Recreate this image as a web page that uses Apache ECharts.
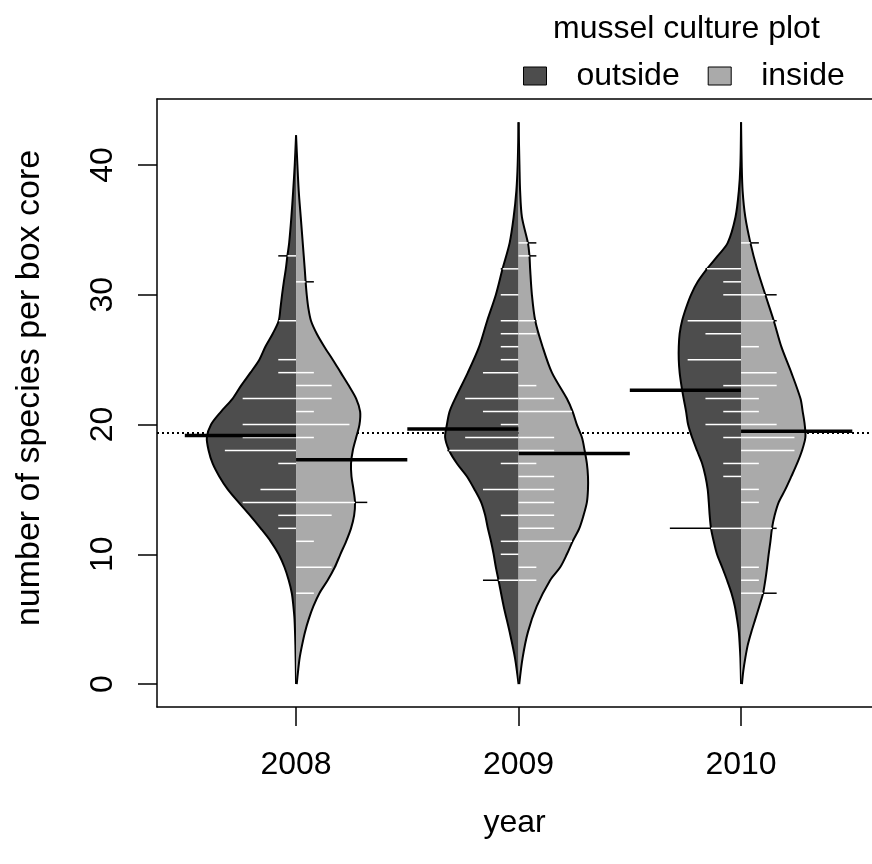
<!DOCTYPE html>
<html><head><meta charset="utf-8">
<script src="https://cdn.jsdelivr.net/npm/echarts@6/dist/echarts.min.js"></script>
<style>html,body{margin:0;padding:0;background:#fff}#c{width:872px;height:864px}</style>
</head><body><div id="c"></div>
<script>
// ---------------- data ----------------
const years = ['2008', '2009', '2010'];
const yTicks = [0, 10, 20, 30, 40];
const xTicks = [1, 2, 3];

// observations per group: [species per box core, number of box cores]
const outside2008 = [[33,1],[28,1],[25,1],[24,1],[22,3],[20,3],[19,3],[18,4],[17,1],[15,2],[14,3],[13,1],[12,1]];
const inside2008  = [[31,1],[24,1],[23,2],[22,2],[21,1],[20,3],[19,1],[14,4],[13,2],[11,1],[9,2],[7,1]];
const outside2009 = [[32,1],[30,1],[28,1],[27,1],[26,1],[25,1],[24,2],[22,3],[21,2],[20,1],[19,3],[18,4],[17,1],[15,2],[13,1],[11,1],[10,1],[8,2]];
const inside2009  = [[34,1],[33,1],[28,1],[27,1],[23,1],[22,2],[21,3],[19,2],[18,2],[17,1],[16,2],[15,2],[14,2],[13,2],[12,2],[11,3],[9,1],[8,1]];
const outside2010 = [[32,2],[31,1],[30,1],[28,3],[27,2],[25,3],[23,1],[22,2],[21,1],[20,2],[19,1],[17,1],[16,1],[12,4]];
const inside2010  = [[34,1],[30,2],[28,2],[26,1],[24,2],[23,2],[22,1],[21,1],[20,2],[19,3],[18,3],[17,1],[15,1],[14,1],[12,2],[9,1],[8,1],[7,2]];

// bean density outlines (half widths in x-axis units) read at levels of the y scale
const levOut2008 = [42.3,40,38,36,34,33,32,31,30,29,28,27,26,25,24,23,22,21,20,19,18,17,16,15,14,13,12,11,10,9,8,7,6,5,3,0];
const widOut2008 = [0,.006,.013,.021,.031,.039,.046,.055,.063,.070,.078,.105,.138,.165,.205,.247,.285,.337,.382,.401,.393,.375,.345,.307,.258,.207,.159,.114,.078,.052,.033,.019,.012,.007,.003,0];
const levIn2008  = [42.3,40,38,36,34,32,31,30,29,28,27,26,25,24,23,22,21,20,19,18,17,16,15,14,13,12,11,10,9,8,7,6,5,4,3,2,1,0];
const widIn2008  = [0,.006,.012,.021,.030,.039,.043,.048,.055,.067,.093,.127,.165,.201,.237,.270,.288,.285,.270,.255,.247,.249,.258,.265,.261,.247,.225,.199,.174,.142,.105,.078,.057,.040,.027,.016,.009,.003];
const levOut2009 = [43.3,40,38,36,34,32,30,28,26,24,22,21,20,19,18,17,16,15,14,13,12,11,10,9,8,6,4,2,0];
const widOut2009 = [0,.004,.010,.022,.040,.072,.102,.141,.177,.228,.285,.310,.322,.330,.312,.277,.232,.198,.168,.150,.138,.124,.112,.102,.090,.067,.040,.016,0];
const levIn2009  = [43.3,40,38,36,34,33,32,30,28,26,24,22,21,20,19,18,17,16,15,14,13,12,11,10,9,8,6,4,2,0];
const widIn2009  = [0,.004,.007,.015,.042,.049,.052,.060,.075,.108,.150,.217,.243,.262,.285,.297,.307,.312,.312,.307,.292,.273,.243,.217,.187,.142,.082,.042,.018,.003];
const levOut2010 = [43.3,40,38,36,34,33,32,31,30,29,28,27,26,25,24,23,22,21,20,19,18,17,16,15,14,13,12,11,10,9,8,7,6,5,4,3,2,0];
const widOut2010 = [0,.003,.010,.025,.060,.105,.153,.195,.225,.247,.265,.276,.280,.280,.276,.268,.258,.247,.238,.220,.198,.175,.160,.150,.145,.141,.135,.123,.108,.085,.063,.043,.028,.018,.010,.006,.003,0];
const levIn2010  = [43.3,40,38,36,34,32,30,28,26,24,22,21,20,19,18,17,16,15,14,13,12,11,10,9,8,7,6,5,4,3,2,1,0];
const widIn2010  = [0,.003,.007,.019,.042,.072,.109,.147,.181,.226,.267,.277,.286,.289,.274,.252,.226,.199,.169,.151,.139,.132,.124,.117,.109,.099,.082,.064,.046,.030,.019,.010,.004];

// ---------------- assembly ----------------
const groups = {
  outside: { obs: [outside2008, outside2009, outside2010], lev: [levOut2008, levOut2009, levOut2010], wid: [widOut2008, widOut2009, widOut2010], side: -1, color: '#4d4d4d' },
  inside:  { obs: [inside2008, inside2009, inside2010],    lev: [levIn2008, levIn2009, levIn2010],    wid: [widIn2008, widIn2009, widIn2010],    side: 1,  color: '#aaaaaa' }
};
const LINE_UNIT = 0.08;   // bean line length per observation
const MEAN_LEN = 0.5;
const X_MIN = 0.375, X_MAX = 3.5885, Y_MIN = -1.77, Y_MAX = 45.09;
const FONT = '"Liberation Sans", Arial, Helvetica, sans-serif';

function meanOf(obs) { let s = 0, n = 0; obs.forEach(o => { s += o[0] * o[1]; n += o[1]; }); return s / n; }
let allObs = []; Object.values(groups).forEach(g => g.obs.forEach(o => allObs = allObs.concat(o)));
const grandMean = meanOf(allObs);

function interp(lev, wid, v) {
  for (let k = 0; k < lev.length - 1; k++) {
    if (v <= lev[k] && v >= lev[k + 1]) {
      const t = (lev[k] - v) / (lev[k] - lev[k + 1]);
      return wid[k] + t * (wid[k + 1] - wid[k]);
    }
  }
  return 0;
}

function makeRender(g) {
  return function (params, api) {
    const i = api.value(0), c = i + 1;
    const lev = g.lev[i], wid = g.wid[i], s = g.side;
    const outline = lev.map((v, k) => api.coord([c + s * wid[k], v]));
    const centre = lev.slice(1, -1).reverse().map(v => api.coord([c, v]));
    const children = [
      { type: 'polygon', shape: { points: outline.concat(centre), smooth: 0.3 }, style: { fill: g.color, stroke: null } },
      { type: 'polyline', shape: { points: outline, smooth: 0.3 }, style: { stroke: '#000', lineWidth: 2, fill: null } }
    ];
    g.obs[i].forEach(o => {
      const v = o[0], len = o[1] * LINE_UNIT, hw = interp(lev, wid, v);
      const inner = Math.min(len, hw);
      const p0 = api.coord([c, v]), p1 = api.coord([c + s * inner, v]);
      children.push({ type: 'line', shape: { x1: p0[0], y1: p0[1], x2: p1[0], y2: p1[1] }, style: { stroke: '#fff', lineWidth: 1.5 } });
      if (len > hw) {
        const p2 = api.coord([c + s * len, v]);
        children.push({ type: 'line', shape: { x1: p1[0], y1: p1[1], x2: p2[0], y2: p2[1] }, style: { stroke: '#000', lineWidth: 1.5 } });
      }
    });
    const m = meanOf(g.obs[i]);
    const a = api.coord([c, m]), b = api.coord([c + s * MEAN_LEN, m]);
    children.push({ type: 'line', shape: { x1: a[0], y1: a[1], x2: b[0], y2: b[1] }, style: { stroke: '#000', lineWidth: 3.5 } });
    return { type: 'group', children };
  };
}

const chart = echarts.init(document.getElementById('c'), null, { renderer: 'canvas' });
const axisBlack = { color: '#000', width: 1.5 };
const option = {
  animation: false,
  title: {
    text: 'mussel culture plot', left: 548, top: 8,
    textStyle: { fontFamily: FONT, fontSize: 32, fontWeight: 'normal', color: '#000' }
  },
  legend: {
    left: 523, top: 60, padding: 0, itemWidth: 23, itemHeight: 18, itemGap: 28,
    data: [
      { name: 'outside', icon: 'rect', itemStyle: { color: '#4d4d4d', borderColor: '#000', borderWidth: 1 } },
      { name: 'inside', icon: 'rect', itemStyle: { color: '#aaaaaa', borderColor: '#000', borderWidth: 1 } }
    ],
    textStyle: { fontFamily: FONT, fontSize: 32, color: '#000', padding: [0, 0, 0, 25] }
  },
  grid: { left: 157, top: 99, right: 0, height: 608, show: false },
  xAxis: [{
    type: 'value', min: X_MIN, max: X_MAX, position: 'bottom',
    splitLine: { show: false }, axisLine: { show: true, onZero: false, lineStyle: axisBlack },
    axisTick: { show: true, length: 19, customValues: xTicks, lineStyle: axisBlack },
    axisLabel: { customValues: xTicks, formatter: v => years[Math.round(v) - 1], fontFamily: FONT, fontSize: 32, color: '#000', margin: 42 },
    name: 'year', nameLocation: 'middle', nameGap: 100,
    nameTextStyle: { fontFamily: FONT, fontSize: 32, color: '#000' }
  }, {
    type: 'value', min: X_MIN, max: X_MAX, position: 'top',
    splitLine: { show: false }, axisLine: { show: true, onZero: false, lineStyle: axisBlack },
    axisTick: { show: false }, axisLabel: { show: false }
  }],
  yAxis: {
    type: 'value', min: Y_MIN, max: Y_MAX,
    splitLine: { show: false }, axisLine: { show: true, onZero: false, lineStyle: axisBlack },
    axisTick: { show: true, length: 19, customValues: yTicks, lineStyle: axisBlack },
    axisLabel: { customValues: yTicks, rotate: 90, align: 'center', verticalAlign: 'bottom', fontFamily: FONT, fontSize: 32, color: '#000', margin: 38 },
    name: 'number of species per box core', nameLocation: 'middle', nameGap: 110, nameRotate: 90,
    nameTextStyle: { fontFamily: FONT, fontSize: 34, color: '#000', padding: [0, 0, 0, 30] }
  },
  series: [
    {
      type: 'line', name: 'overall mean', silent: true, z: 1, symbol: 'none',
      data: [[X_MIN, grandMean], [X_MAX, grandMean]],
      lineStyle: { color: '#000', width: 2, type: [2, 3] }
    },
    { type: 'custom', name: 'outside', z: 2, silent: true, itemStyle: { color: '#4d4d4d' }, data: [[0], [1], [2]], renderItem: makeRender(groups.outside) },
    { type: 'custom', name: 'inside', z: 3, silent: true, itemStyle: { color: '#aaaaaa' }, data: [[0], [1], [2]], renderItem: makeRender(groups.inside) }
  ]
};
chart.setOption(option);
</script>
</body></html>
